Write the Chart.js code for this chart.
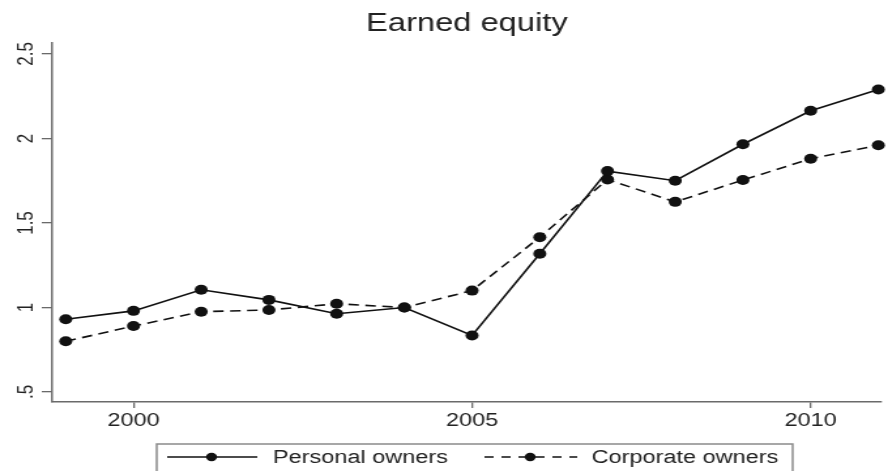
<!DOCTYPE html>
<html>
<head>
<meta charset="utf-8">
<script src="https://cdn.jsdelivr.net/npm/chart.js@4"></script>
<style>
  html, body { margin: 0; padding: 0; background: #fff; }
</style>
</head>
<body>
<!-- the source figure is stretched sideways, so the canvas is drawn narrow and widened by its inline style -->
<canvas id="myChart" width="680" height="471" style="display:block;width:888px;height:471px"></canvas>
<script>
const years = [1999, 2000, 2001, 2002, 2003, 2004, 2005, 2006, 2007, 2008, 2009, 2010, 2011];
const personal = [0.93, 0.98, 1.105, 1.045, 0.963, 1.00, 0.834, 1.318, 1.807, 1.75, 1.966, 2.164, 2.29];
const corporate = [0.80, 0.89, 0.975, 0.985, 1.022, 1.00, 1.10, 1.416, 1.757, 1.625, 1.754, 1.88, 1.96];
const xTicks = [2000, 2005, 2010];
const yTicks = [0.5, 1, 1.5, 2, 2.5];
const seriesNames = ['Personal owners', 'Corporate owners'];

const font = '"Liberation Sans", Arial, Helvetica, sans-serif';
const ink = '#111';
const axisGrey = '#6a6a6a';

// legend in a box under the plot, like the original
const boxLegend = {
  id: 'boxLegend',
  afterDraw(chart) {
    const ctx = chart.ctx;
    const ds = chart.data.datasets;
    ctx.save();
    ctx.strokeStyle = '#8a8a8a';
    ctx.lineWidth = 1.5;
    ctx.strokeRect(120, 444, 487, 40);

    const items = [
      { x0: 128, x1: 197, dot: 162, tx: 209, dash: [] },
      { x0: 371, x1: 442, dot: 406, tx: 453, dash: [7, 6] }
    ];
    const y = 457;
    items.forEach((it, i) => {
      ctx.strokeStyle = ds[i].borderColor;
      ctx.lineWidth = ds[i].borderWidth;
      ctx.setLineDash(it.dash);
      ctx.beginPath();
      ctx.moveTo(it.x0, y);
      ctx.lineTo(it.x1, y);
      ctx.stroke();
      ctx.setLineDash([]);
      ctx.fillStyle = ink;
      ctx.beginPath();
      ctx.arc(it.dot, y, 4.2, 0, Math.PI * 2);
      ctx.fill();
      ctx.fillStyle = '#222';
      ctx.font = '18px ' + font;
      ctx.textBaseline = 'middle';
      ctx.textAlign = 'left';
      ctx.fillText(ds[i].label, it.tx, y + 1);
    });
    ctx.restore();
  }
};

const ctx = document.getElementById('myChart').getContext('2d');

new Chart(ctx, {
  type: 'line',
  data: {
    datasets: [
      {
        label: seriesNames[0],
        data: years.map((yr, i) => ({ x: yr, y: personal[i] })),
        borderColor: ink,
        backgroundColor: ink,
        borderWidth: 1.6,
        pointRadius: 5,
        pointBorderWidth: 0,
        tension: 0,
        clip: false
      },
      {
        label: seriesNames[1],
        data: years.map((yr, i) => ({ x: yr, y: corporate[i] })),
        borderColor: ink,
        backgroundColor: ink,
        borderWidth: 1.6,
        borderDash: [8, 5],
        pointRadius: 5,
        pointBorderWidth: 0,
        tension: 0,
        clip: false
      }
    ]
  },
  options: {
    responsive: false,
    animation: false,
    devicePixelRatio: 1,
    layout: {
      padding: { top: 0, right: 0, left: 0, bottom: 39 }
    },
    plugins: {
      legend: { display: false },
      tooltip: { enabled: false },
      title: {
        display: true,
        text: 'Earned equity',
        fullSize: false,
        color: '#222',
        font: { family: font, size: 25, weight: 'normal' },
        padding: { top: 9, bottom: 4 }
      }
    },
    scales: {
      x: {
        type: 'linear',
        min: 1998.8,
        max: 2011.046,
        afterBuildTicks: scale => { scale.ticks = xTicks.map(v => ({ value: v })); },
        afterFit: scale => { scale.height = 30; },
        border: { display: true, color: axisGrey, width: 1.5 },
        grid: { drawOnChartArea: false, drawTicks: true, tickLength: 6, color: axisGrey, lineWidth: 1.3 },
        ticks: {
          autoSkip: false,
          maxRotation: 0,
          padding: 2,
          color: '#222',
          font: { family: font, size: 18 },
          callback: v => String(v)
        }
      },
      y: {
        min: 0.4408,
        max: 2.565,
        afterBuildTicks: scale => { scale.ticks = yTicks.map(v => ({ value: v })); },
        afterFit: scale => { scale.width = 40; },
        border: { display: true, color: axisGrey, width: 1.5 },
        grid: { drawOnChartArea: false, drawTicks: true, tickLength: 8, color: axisGrey, lineWidth: 1.3 },
        ticks: {
          minRotation: 90,
          maxRotation: 90,
          crossAlign: 'center',
          padding: 0,
          color: '#222',
          font: { family: font, size: 17 },
          callback: v => (v < 1 ? String(v).replace(/^0/, '') : String(v))
        }
      }
    }
  },
  plugins: [boxLegend]
});
</script>
</body>
</html>
